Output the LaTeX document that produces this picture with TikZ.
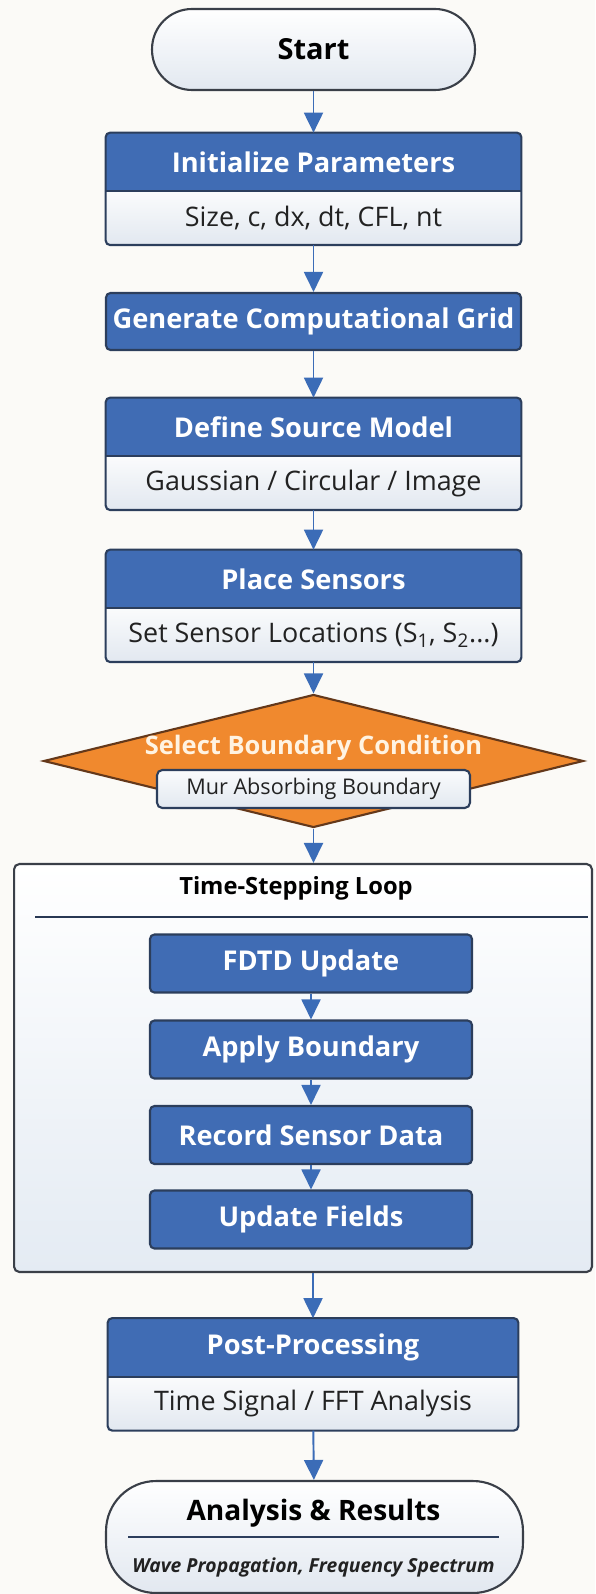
\documentclass[tikz,border=0pt]{standalone}
\usepackage{fontspec}
\setmainfont{Open Sans}
\usetikzlibrary{positioning,shapes.geometric,arrows.meta}
\definecolor{pagebg}{RGB}{251,250,247}
\definecolor{headblue}{RGB}{64,108,180}
\definecolor{edgeblue}{RGB}{44,62,92}
\definecolor{arrowblue}{RGB}{59,108,183}
\definecolor{subtop}{RGB}{250,251,252}
\definecolor{subbot}{RGB}{226,232,240}
\definecolor{notetext}{RGB}{34,34,34}
\definecolor{bcorange}{RGB}{240,137,46}
\definecolor{bcedge}{RGB}{100,56,26}
\definecolor{bctext}{RGB}{255,243,226}
\definecolor{loopbot}{RGB}{228,235,243}
\definecolor{loopedge}{RGB}{58,63,72}
\tikzset{
  flowarrow/.style={draw=arrowblue, line width=1.1pt, -{Triangle[width=0.38cm,length=0.4cm]}},
  terminal/.style={draw=loopedge, line width=1.2pt, top color=white, bottom color=subbot, text=black, inner sep=0pt},
  steptitle/.style={fill=headblue, text=white, minimum width=8.3cm, minimum height=1.16cm, inner sep=0pt, font=\bfseries\fontsize{15.5}{18}\selectfont},
  stepnote/.style={top color=subtop, bottom color=subbot, text=notetext, minimum width=8.3cm, minimum height=1.06cm, inner sep=0pt, font=\fontsize{15.3}{17}\selectfont},
  stepframe/.style={draw=edgeblue, line width=1.2pt, rounded corners=2.5pt},
  divider/.style={draw=edgeblue, line width=1pt},
  stepbox/.style={steptitle, draw=edgeblue, line width=1.2pt, rounded corners=2.5pt},
  loopbox/.style={stepbox, minimum width=6.44cm},
  decision/.style={diamond, fill=bcorange, draw=bcedge, line width=1.2pt, minimum width=10.8cm, minimum height=2.66cm, inner sep=0pt},
  option/.style={stepnote, draw=edgeblue, line width=1.2pt, rounded corners=3pt, minimum width=6.26cm, minimum height=0.76cm, font=\fontsize{12.3}{14}\selectfont},
  looptitle/.style={text=black, font=\bfseries\fontsize{13.5}{16}\selectfont},
}

\begin{document}
\begin{tikzpicture}[x=0.02cm, y=-0.02cm]
\useasboundingbox (0,0) rectangle (595,1594);
\fill[pagebg] (0,0) rectangle (595,1594);
% start
\node[terminal, rounded corners=0.8cm, minimum width=6.46cm, minimum height=1.62cm, font=\bfseries\fontsize{16.5}{19}\selectfont] (start) at (313.5,49.5) {Start};
% set-up steps
\node[steptitle] (init) at (313.5,162) {Initialize Parameters};
\node[stepnote, below=0pt of init] (initsub) {Size, c, dx, dt, CFL, nt};
\draw[stepframe] (init.north west) rectangle (initsub.south east);
\draw[divider] (init.south west) -- (init.south east);
\node[stepbox, minimum height=1.14cm] (grid) at (313.5,321.5) {Generate Computational Grid};
\node[steptitle] (source) at (313.5,427) {Define Source Model};
\node[stepnote, below=0pt of source] (sourcesub) {Gaussian / Circular / Image};
\draw[stepframe] (source.north west) rectangle (sourcesub.south east);
\draw[divider] (source.south west) -- (source.south east);
\node[steptitle] (sensors) at (313.5,579) {Place Sensors};
\node[stepnote, below=0pt of sensors] (sensorssub) {Set Sensor Locations (S\textsubscript{1}, S\textsubscript{2}...)};
\draw[stepframe] (sensors.north west) rectangle (sensorssub.south east);
\draw[divider] (sensors.south west) -- (sensors.south east);
% boundary choice
\node[decision] (bcond) at (313.5,761) {};
\node[looptitle, text=bctext, font=\bfseries\fontsize{14.5}{17}\selectfont] (bcondlabel) at (313.5,748) {Select Boundary Condition};
\node[option] (mur) at (313.5,789) {Mur Absorbing Boundary};
% loop
\node[draw=loopedge, line width=1.2pt, rounded corners=3pt, top color=white, bottom color=loopbot, minimum width=11.56cm, minimum height=8.16cm] (loop) at (303,1068) {};
\node[looptitle] (loopname) at (296,888) {Time-Stepping Loop};
\draw[divider, draw=edgeblue!90!black] (35,917) -- (588,917);
\node[loopbox] (fdtd) at (311,963.5) {FDTD Update};
\node[loopbox] (apply) at (311,1049.5) {Apply Boundary};
\node[loopbox] (record) at (311,1135) {Record Sensor Data};
\node[loopbox] (fields) at (311,1219.5) {Update Fields};
% post-processing
\node[steptitle, minimum width=8.2cm] (post) at (313,1347.5) {Post-Processing};
\node[stepnote, minimum width=8.2cm, below=0pt of post] (postsub) {Time Signal / FFT Analysis};
\draw[stepframe] (post.north west) rectangle (postsub.south east);
\draw[divider] (post.south west) -- (post.south east);
% results
\node[terminal, rounded corners=1.0cm, minimum width=8.34cm, minimum height=2.24cm] (results) at (314.5,1537) {};
\node[looptitle, font=\bfseries\fontsize{16}{19}\selectfont] (resultsname) at (313.5,1513) {Analysis \& Results};
\draw[divider] (128,1537) -- (499,1537);
\node[text=notetext, font=\bfseries\itshape\fontsize{11}{13}\selectfont] (resultsnote) at (313.5,1567) {Wave Propagation, Frequency Spectrum};
% connectors
\draw[flowarrow] (start) -- (init);
\draw[flowarrow] (initsub) -- (grid);
\draw[flowarrow] (grid) -- (source);
\draw[flowarrow] (sourcesub) -- (sensors);
\draw[flowarrow] (sensorssub) -- (bcond.north);
\draw[flowarrow] (bcond.south) -- (bcond.south |- loop.north);
\draw[flowarrow] (fdtd) -- (apply);
\draw[flowarrow] (apply) -- (record);
\draw[flowarrow] (record) -- (fields);
\draw[flowarrow] (post.north |- loop.south) -- (post);
\draw[flowarrow] (postsub) -- (results);
\end{tikzpicture}
\end{document}
